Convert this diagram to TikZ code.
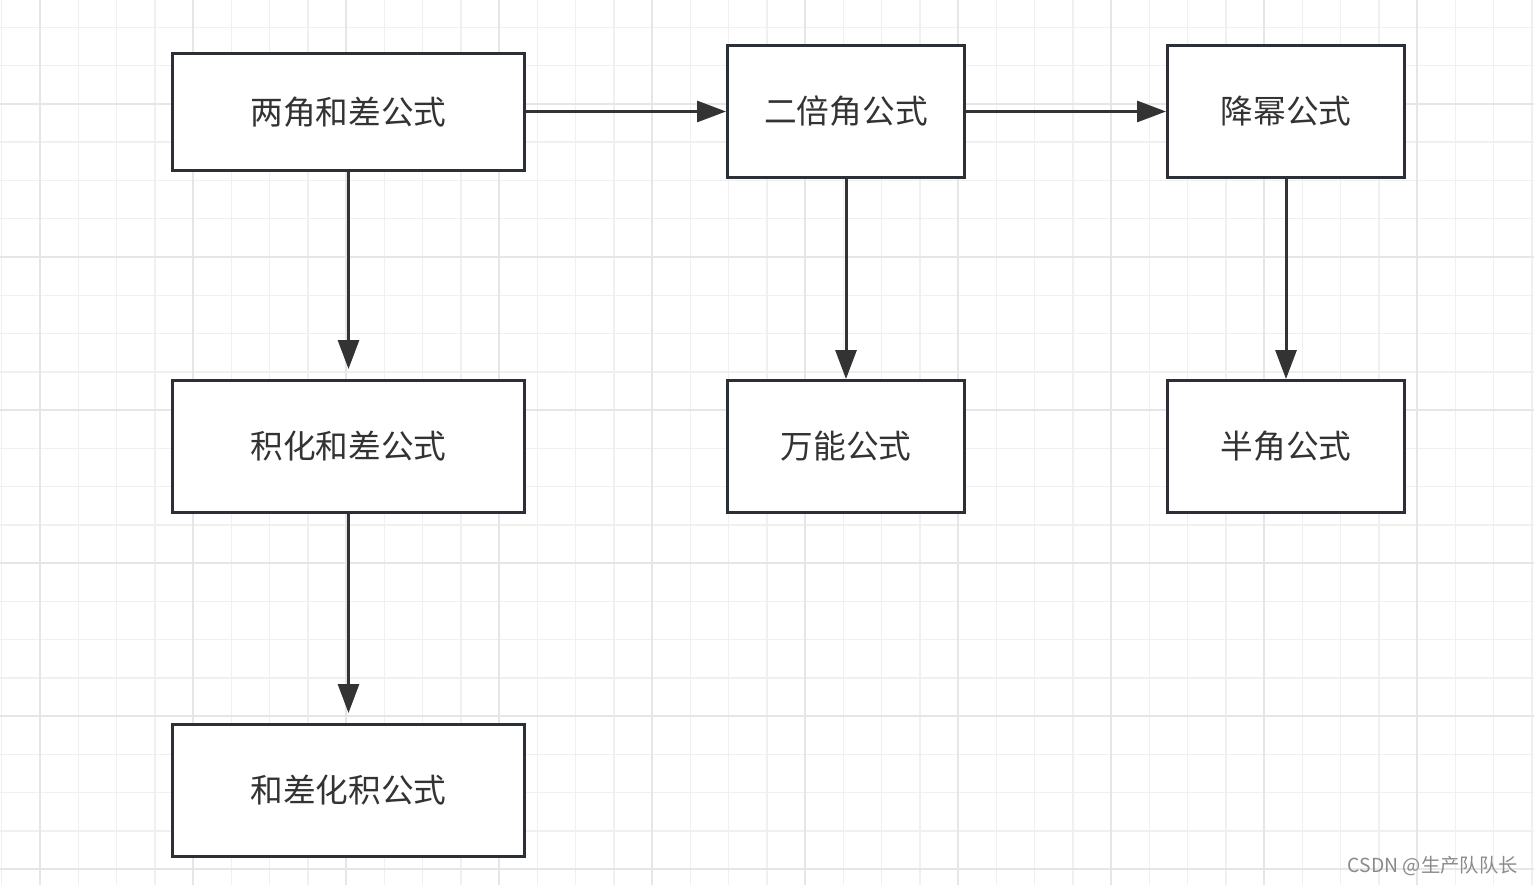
\documentclass[tikz,border=0pt]{standalone}
\usepackage{fontspec}
\newfontfamily\cjk{Noto Sans CJK SC}
\usetikzlibrary{arrows.meta}
\definecolor{boxline}{HTML}{2B3036}
\definecolor{arrowline}{HTML}{333333}
\definecolor{textgray}{HTML}{333333}
\definecolor{gridminor}{HTML}{F0F0F0}
\definecolor{gridmajor}{HTML}{E6E6E6}
\definecolor{markgray}{HTML}{8A8A8A}

\begin{document}
\begin{tikzpicture}[x=0.02cm, y=-0.02cm,
    formula/.style={draw=boxline, line width=0.06cm, fill=white, text=textgray, shape=rectangle, font=\cjk\fontsize{18.6}{20}\selectfont, minimum width=4.74cm, minimum height=2.64cm},
    flow/.style={draw=arrowline, line width=0.06cm, -{Triangle[length=0.58cm, width=0.42cm]}}]
  \useasboundingbox (0,0) rectangle (1534,885);
  \fill[white] (0,0) rectangle (1534,885);
  % grid
  \foreach \i in {0,...,40} {
    \draw[gridminor, line width=0.03cm] ({1.75+38.25*\i},0) -- ({1.75+38.25*\i},885);
  }
  \foreach \i in {0,...,24} {
    \draw[gridminor, line width=0.03cm] (0,{-10.75+38.25*\i}) -- (1534,{-10.75+38.25*\i});
  }
  \foreach \i in {0,...,10} {
    \draw[gridmajor, line width=0.05cm] ({40+153*\i},0) -- ({40+153*\i},885);
  }
  \foreach \i in {0,...,6} {
    \draw[gridmajor, line width=0.05cm] (0,{-49+153*\i}) -- (1534,{-49+153*\i});
  }

  \node[formula, minimum width=7.04cm, minimum height=2.33cm] (liangjiao) at (348.5,112) {两角和差公式};
  \node[formula] (erbei) at (846,111.5) {二倍角公式};
  \node[formula] (jiangmi) at (1286,111.5) {降幂公式};
  \node[formula, minimum width=7.04cm] (jihua) at (348.5,446.5) {积化和差公式};
  \node[formula] (wanneng) at (846,446.5) {万能公式};
  \node[formula] (banjiao) at (1286,446.5) {半角公式};
  \node[formula, minimum width=7.04cm] (hecha) at (348.5,790.5) {和差化积公式};

  \draw[flow] (liangjiao.east |- erbei.west) -- (erbei.west);
  \draw[flow] (erbei.east) -- (jiangmi.west);
  \draw[flow, shorten >=0.2cm] (liangjiao.south) -- (jihua.north);
  \draw[flow] (erbei.south) -- (wanneng.north);
  \draw[flow] (jiangmi.south) -- (banjiao.north);
  \draw[flow, shorten >=0.2cm] (jihua.south) -- (hecha.north);

  \node[anchor=east, text=markgray, font=\cjk\fontsize{11}{13}\selectfont, inner sep=0pt] (mark) at (1518,866) {CSDN @生产队队长};
\end{tikzpicture}
\end{document}
